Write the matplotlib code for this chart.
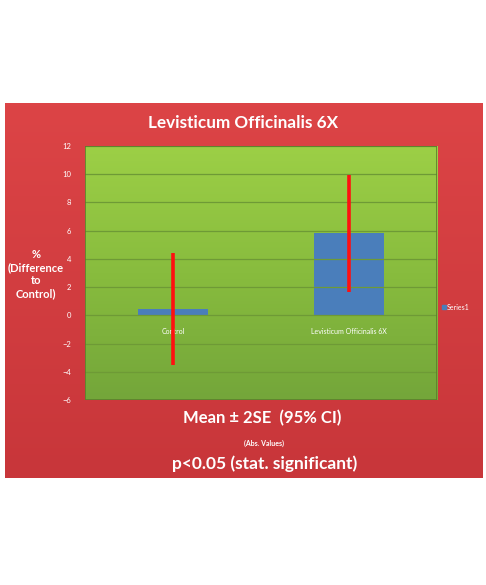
import numpy as np
import matplotlib
matplotlib.use("Agg")
from matplotlib import pyplot as plt
from matplotlib.colors import LinearSegmentedColormap
from matplotlib.lines import Line2D

# data
categories = ["Control", "Levisticum Officinalis 6X"]
means = [0.45, 5.8]
err_2se = [4.0, 4.15]
yticks = [-6, -4, -2, 0, 2, 4, 6, 8, 10, 12]

plt.rcParams['font.family'] = ['Lato', 'DejaVu Sans']

fig = plt.figure(figsize=(4.86, 5.85), dpi=100)
fig.patch.set_facecolor("white")

# red panel behind everything
W, H = 486.0, 585.0
bg = fig.add_axes([5 / W, (H - 478) / H, 477 / W, 375 / H], zorder=0)
red = LinearSegmentedColormap.from_list("red", ["#c8363a", "#dc4446"])
bg.imshow(np.linspace(0, 1, 100).reshape(-1, 1), cmap=red, aspect="auto",
          origin="lower", extent=[0, 1, 0, 1])
bg.set_axis_off()

ax = fig.add_axes([85 / W, (H - 400) / H, 352 / W, 254 / H], zorder=1)
green = LinearSegmentedColormap.from_list("grn", ["#74a63a", "#88bc3e", "#9ccf46"])
ax.imshow(np.linspace(0, 1, 100).reshape(-1, 1), cmap=green, aspect="auto",
          origin="lower", extent=[-0.5, 1.5, -6, 12], zorder=0)

x = np.arange(len(categories))
ax.bar(x, means, width=0.4, color="#4a7ebb", zorder=2, label="Series1")
ax.errorbar(x, means, yerr=err_2se, fmt="none", ecolor="#ff1010",
            elinewidth=2.6, capsize=0, zorder=3)

ax.set_xlim(-0.5, 1.5)
ax.set_ylim(-6, 12)
ax.set_yticks(yticks)
ax.yaxis.grid(True, color="#6e9a36", linewidth=0.9)
ax.set_axisbelow(False)
ax.tick_params(axis="y", colors="white", labelsize=5.5, length=0, pad=10)

ax.set_xticks(x)
ax.set_xticklabels(categories)
ax.spines["bottom"].set_position(("data", 0))
ax.tick_params(axis="x", length=0, pad=9, colors="white", labelsize=5)
for s in ["top", "right", "left", "bottom"]:
    ax.spines[s].set_visible(False)
ax.add_patch(plt.Rectangle((0, 0), 1, 1, transform=ax.transAxes, fill=False,
                           edgecolor="#5d7f2c", linewidth=1.2, zorder=4))

handle = Line2D([], [], marker="s", color="#4a7ebb", linestyle="none", markersize=3)
leg = ax.legend([handle], ["Series1"], loc="center left",
                bbox_to_anchor=(0.995, 0.366), frameon=False, fontsize=5,
                handletextpad=0.2, handlelength=0.6)
for t in leg.get_texts():
    t.set_color("white")

fig.text(243 / W, 1 - 123 / H, "Levisticum Officinalis 6X", color="white",
         fontsize=12.3, fontweight="bold", ha="center", va="center")
fig.text(36 / W, 1 - 274 / H, "%\n(Difference\nto\nControl)", color="white",
         fontsize=8, fontweight="bold", ha="center", va="center", linespacing=1.25)
fig.text(262 / W, 1 - 418 / H, "Mean \u00b1 2SE  (95% CI)", color="white",
         fontsize=12, fontweight="bold", ha="center", va="center")
fig.text(264 / W, 1 - 443 / H, "(Abs. Values)", color="white",
         fontsize=5, fontweight="bold", ha="center", va="center")
fig.text(265 / W, 1 - 464 / H, "p<0.05 (stat. significant)", color="white",
         fontsize=12.5, fontweight="bold", ha="center", va="center")

fig.savefig("out.png", dpi=100)
